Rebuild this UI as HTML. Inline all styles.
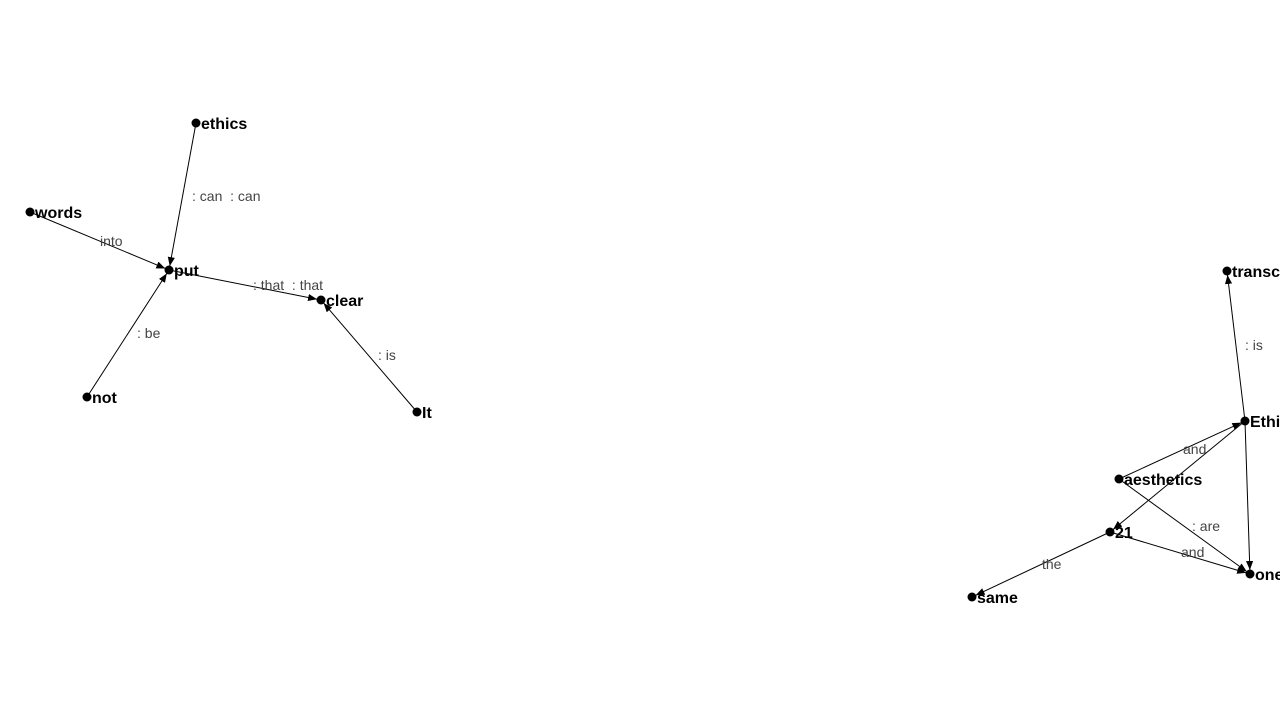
<!DOCTYPE html>
<html><head><meta charset="utf-8"><style>
html,body{margin:0;padding:0;background:#fff;width:1280px;height:720px;overflow:hidden}
svg{display:block}
.nl{font:bold 16px "Liberation Sans",sans-serif;fill:#000}
.el{font:14px "Liberation Sans",sans-serif;fill:#444}
</style></head><body>
<svg id="g" width="1280" height="720">
<defs><marker id="ar" viewBox="0 0 10 10" refX="10" refY="5" markerWidth="9" markerHeight="9" markerUnits="userSpaceOnUse" orient="auto"><path d="M0,1 L10,5 L0,9 z" fill="#000"/></marker></defs>
</svg>
<script>
const nodeNames=["ethics","words","put","clear","not","It","transc","Ethi","aesthetics","21","same","one"];
const nodeX=[196,30,169,321,87,417,1227,1245,1119,1110,972,1250];
const nodeY=[123,212,270,300,397,412,271,421,479,532,597,574];
const edgeFrom=["ethics","words","put","not","It","Ethi","aesthetics","Ethi","aesthetics","21","Ethi","21"];
const edgeTo=["put","put","clear","put","clear","transc","Ethi","21","one","one","one","same"];
const edgeLabels=[": can  : can","into",": that  : that",": be",": is",": is","and","",": are","and","","the"];
const labelX=[192,100,253,137,378,1245,1183,0,1192,1181,0,1042];
const labelY=[201,246,290,338,360,350,454,0,531,557,0,569];
const svg=document.getElementById('g');
const NS="http://www.w3.org/2000/svg";
const idx=n=>nodeNames.indexOf(n);
edgeFrom.forEach((f,i)=>{
  const a=idx(f),b=idx(edgeTo[i]);
  const x1=nodeX[a],y1=nodeY[a],x2=nodeX[b],y2=nodeY[b];
  const d=Math.hypot(x2-x1,y2-y1);
  const ex=x2-(x2-x1)/d*4,ey=y2-(y2-y1)/d*4;
  const l=document.createElementNS(NS,'line');
  
  
  l.setAttribute('x1',x1);l.setAttribute('y1',y1);l.setAttribute('x2',ex);l.setAttribute('y2',ey);
  l.setAttribute('stroke','#000');l.setAttribute('stroke-width','1');l.setAttribute('marker-end','url(#ar)');
  svg.appendChild(l);
  if(edgeLabels[i]){
    const t=document.createElementNS(NS,'text');
    
    
    t.setAttribute('class','el');t.setAttribute('x',labelX[i]);t.setAttribute('y',labelY[i]);
    t.setAttribute('xml:space','preserve');t.style.whiteSpace='pre';
    t.textContent=edgeLabels[i];svg.appendChild(t);
  }
});
nodeNames.forEach((n,i)=>{
  const c=document.createElementNS(NS,'circle');
  
  
  c.setAttribute('cx',nodeX[i]);c.setAttribute('cy',nodeY[i]);c.setAttribute('r',4.5);c.setAttribute('fill','#000');
  svg.appendChild(c);
  const t=document.createElementNS(NS,'text');
  
  
  t.setAttribute('class','nl');t.setAttribute('x',nodeX[i]+5);t.setAttribute('y',nodeY[i]+6);
  t.textContent=n;svg.appendChild(t);
});
</script>
</body></html>
